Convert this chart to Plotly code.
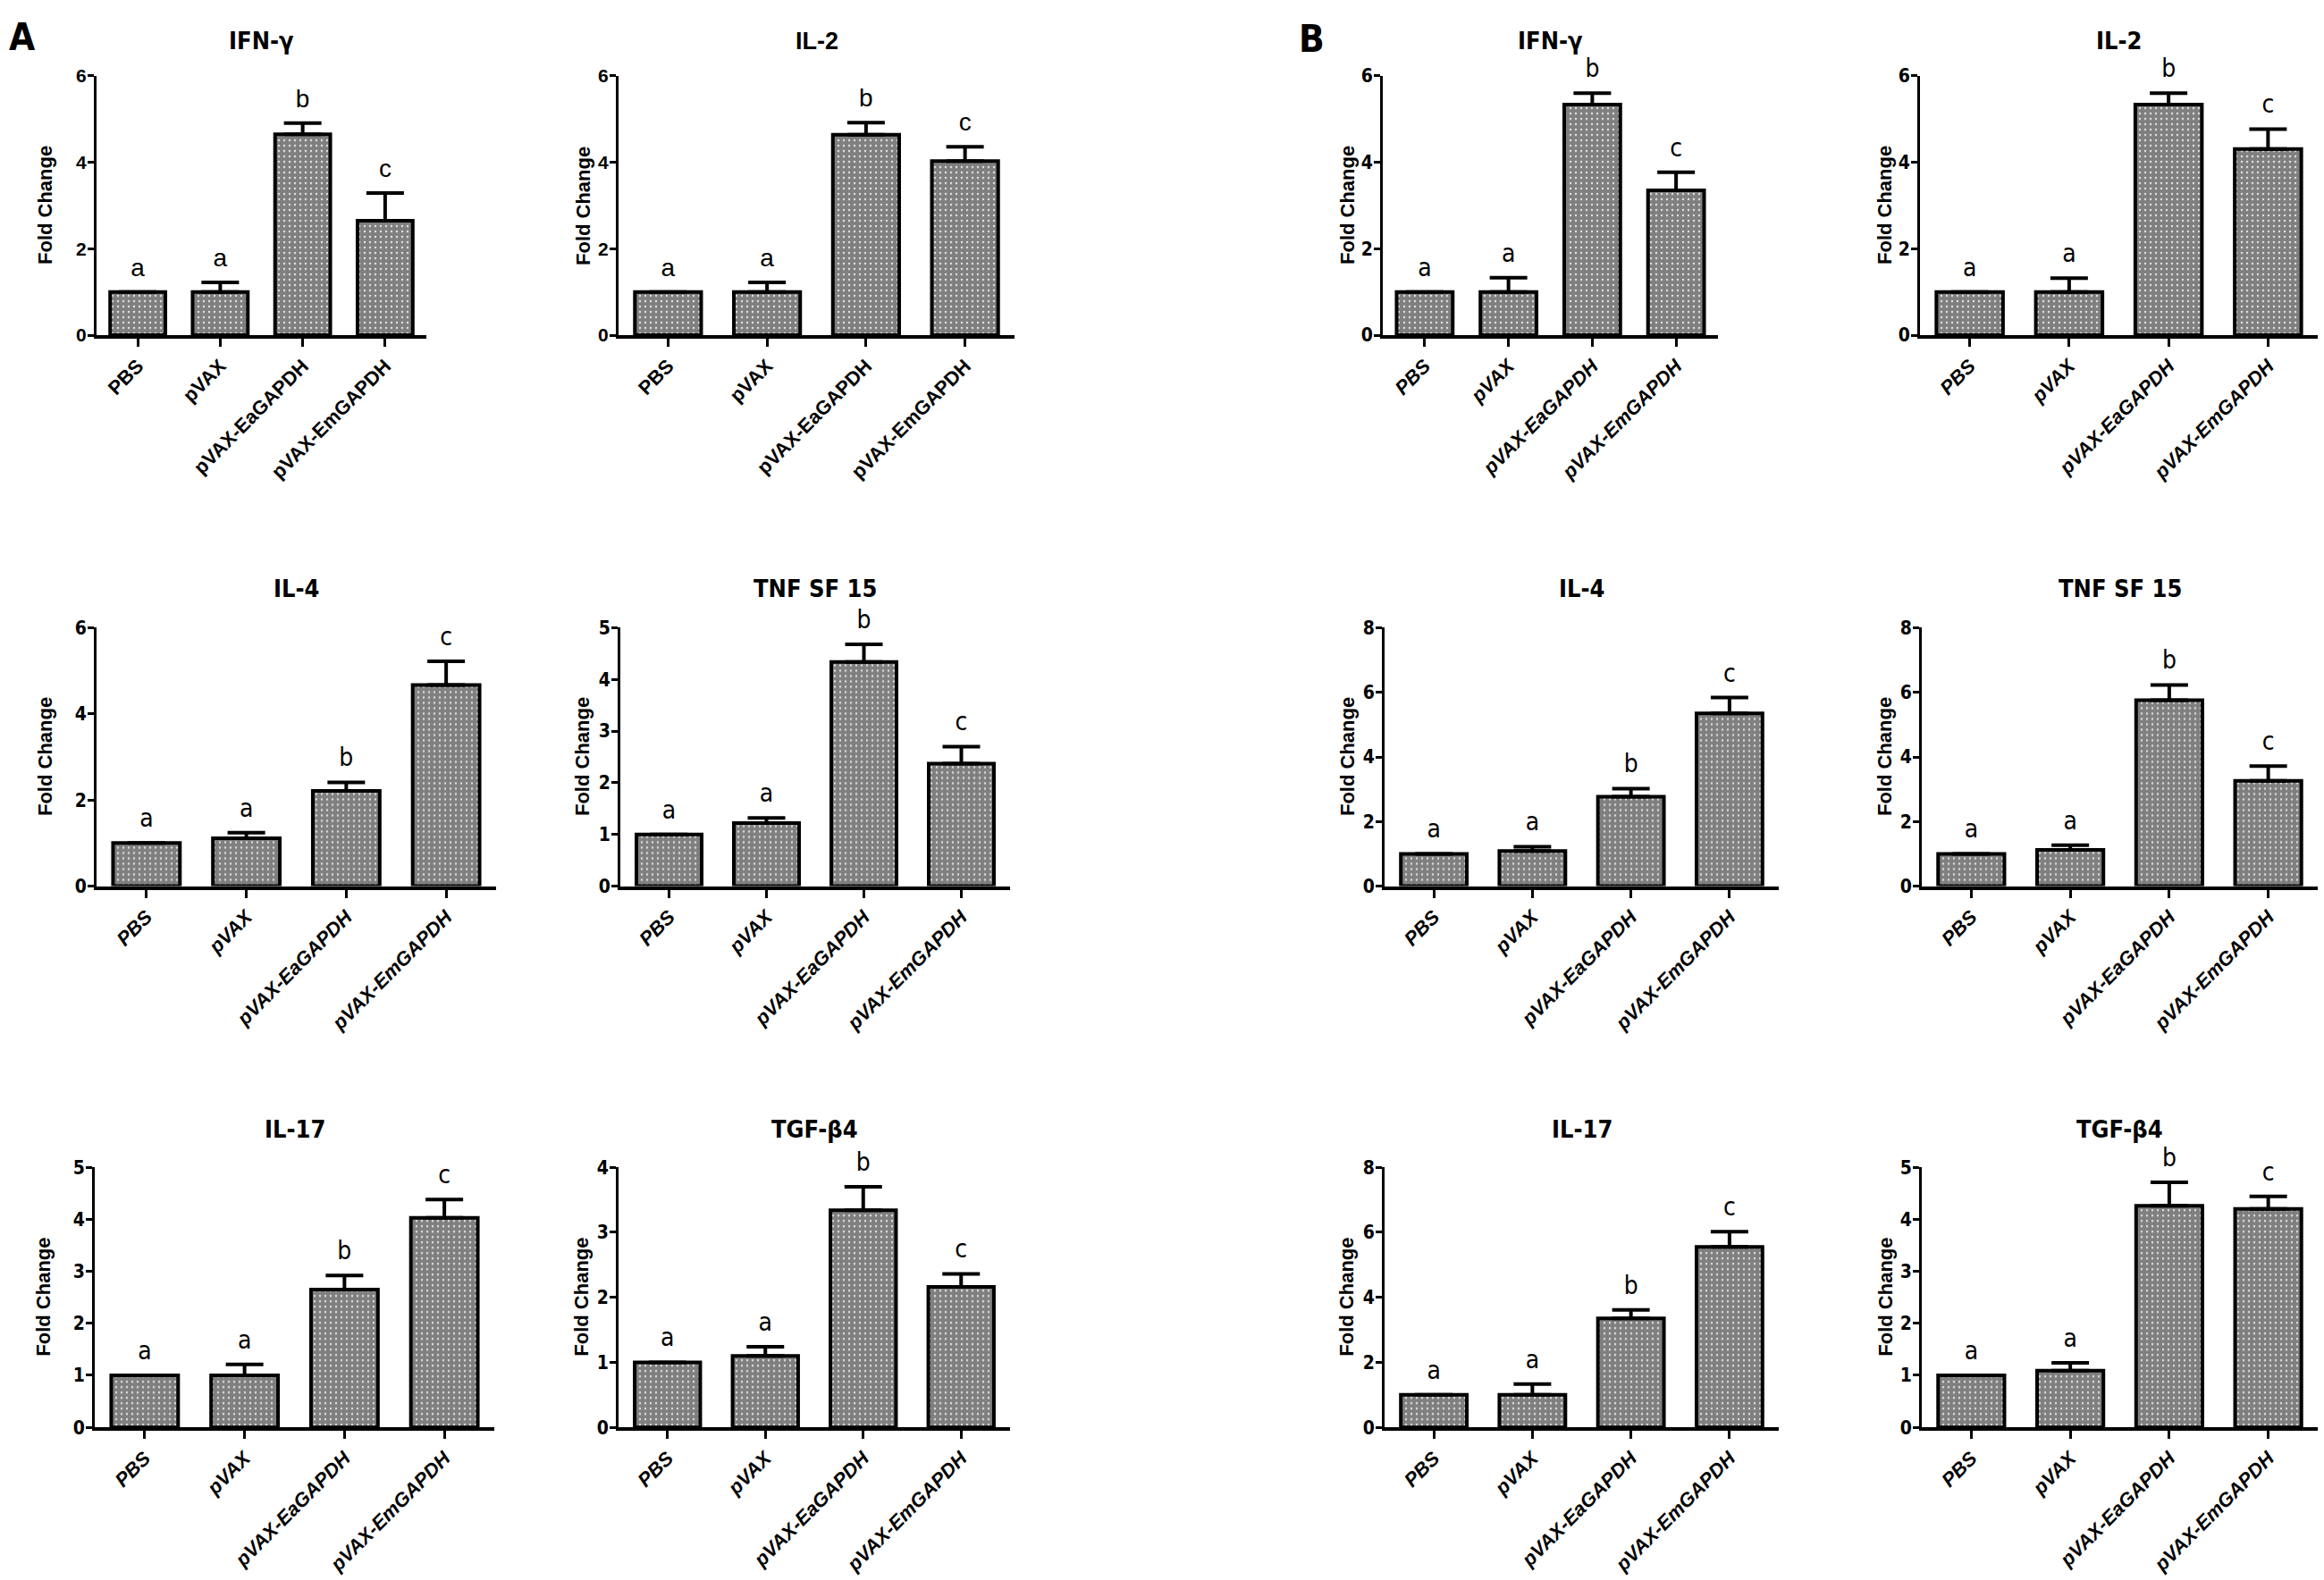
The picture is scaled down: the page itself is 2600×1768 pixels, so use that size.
import plotly.graph_objects as go

W, H = 2600, 1768

GROUPS = ["PBS", "pVAX", "pVAX-EaGAPDH", "pVAX-EmGAPDH"]
LETTERS = ["a", "a", "b", "c"]

# panel A (fold change, mean and upper SD)
A_IFNG = [1.0, 1.0, 4.65, 2.65]
A_IFNG_SD = [0.0, 0.22, 0.26, 0.64]
A_IL2 = [1.0, 1.0, 4.64, 4.03]
A_IL2_SD = [0.0, 0.22, 0.28, 0.33]
A_IL4 = [1.0, 1.11, 2.21, 4.67]
A_IL4_SD = [0.0, 0.13, 0.20, 0.55]
A_TNF = [1.0, 1.22, 4.34, 2.37]
A_TNF_SD = [0.0, 0.10, 0.34, 0.33]
A_IL17 = [1.0, 1.0, 2.65, 4.03]
A_IL17_SD = [0.0, 0.21, 0.27, 0.35]
A_TGF = [1.0, 1.10, 3.34, 2.16]
A_TGF_SD = [0.0, 0.14, 0.36, 0.20]

# panel B
B_IFNG = [1.0, 1.0, 5.34, 3.35]
B_IFNG_SD = [0.0, 0.33, 0.26, 0.42]
B_IL2 = [1.0, 1.0, 5.34, 4.31]
B_IL2_SD = [0.0, 0.32, 0.26, 0.46]
B_IL4 = [1.0, 1.09, 2.77, 5.35]
B_IL4_SD = [0.0, 0.13, 0.25, 0.49]
B_TNF = [1.0, 1.12, 5.76, 3.26]
B_TNF_SD = [0.0, 0.15, 0.47, 0.46]
B_IL17 = [1.0, 1.0, 3.35, 5.55]
B_IL17_SD = [0.0, 0.33, 0.26, 0.47]
B_TGF = [1.0, 1.09, 4.26, 4.20]
B_TGF_SD = [0.0, 0.15, 0.45, 0.24]

# y axis maxima and tick steps
A_YMAX = [6, 6, 6, 5, 5, 4]
A_DTICK = [2, 2, 2, 1, 1, 1]
B_YMAX = [6, 6, 8, 8, 8, 5]
B_DTICK = [2, 2, 2, 2, 2, 1]

TITLES = ["IFN-γ", "IL-2", "IL-4", "TNF SF 15", "IL-17", "TGF-β4"]

ARIAL = "Liberation Sans, Arial, sans-serif"
NARROW = "Liberation Sans Narrow, Arial Narrow, DejaVu Sans Condensed, sans-serif"

# plot boxes in pixels: (x0, x1, y_top, y_bottom), panel A then B, row by row
BOXES_A = [(108, 477, 74, 368), (692, 1135, 74, 368),
           (108, 555, 700, 993), (694, 1130, 700, 993),
           (106, 553, 1312, 1607), (692, 1130, 1312, 1607)]
BOXES_B = [(1547, 1922, 74, 368), (2148, 2593, 74, 368),
           (1549, 1990, 700, 993), (2150, 2593, 700, 993),
           (1549, 1990, 1312, 1607), (2150, 2593, 1312, 1607)]
YTITLE_X_A = [50, 652, 50, 651, 49, 651]
YTITLE_X_B = [1507, 2108, 1507, 2108, 1507, 2110]
TITLE_Y = [34, 34, 655, 655, 1269, 1269]

panels = []
a_vals = [A_IFNG, A_IL2, A_IL4, A_TNF, A_IL17, A_TGF]
a_sd = [A_IFNG_SD, A_IL2_SD, A_IL4_SD, A_TNF_SD, A_IL17_SD, A_TGF_SD]
b_vals = [B_IFNG, B_IL2, B_IL4, B_TNF, B_IL17, B_TGF]
b_sd = [B_IFNG_SD, B_IL2_SD, B_IL4_SD, B_TNF_SD, B_IL17_SD, B_TGF_SD]
for i in range(6):
    panels.append(dict(vals=a_vals[i], sd=a_sd[i], ymax=A_YMAX[i], dtick=A_DTICK[i],
                       title=TITLES[i], box=BOXES_A[i], ytx=YTITLE_X_A[i],
                       ty=TITLE_Y[i], plain=(i < 2)))
for i in range(6):
    panels.append(dict(vals=b_vals[i], sd=b_sd[i], ymax=B_YMAX[i], dtick=B_DTICK[i],
                       title=TITLES[i], box=BOXES_B[i], ytx=YTITLE_X_B[i],
                       ty=TITLE_Y[i], plain=False))

fig = go.Figure()
layout = {}
annotations = []

for k, p in enumerate(panels, start=1):
    sfx = "" if k == 1 else str(k)
    xref, yref = f"x{sfx}", f"y{sfx}"
    x0, x1, yt, yb = p["box"]
    tickfam = ARIAL if p["plain"] else NARROW
    cats = list(range(len(GROUPS)))

    fig.add_trace(go.Bar(
        x=cats, y=p["vals"], xaxis=xref, yaxis=yref, width=0.67,
        marker=dict(color="white", line=dict(color="black", width=4),
                    pattern=dict(shape=".", size=6, solidity=0.83,
                                 fgcolor="black", bgcolor="white")),
        error_y=dict(type="data", array=p["sd"], arrayminus=[0] * 4,
                     symmetric=False, color="black", thickness=4, width=21),
        showlegend=False,
    ))
    tops = [v + s for v, s in zip(p["vals"], p["sd"])]
    fig.add_trace(go.Scatter(
        x=cats, y=tops, xaxis=xref, yaxis=yref, mode="markers+text",
        text=LETTERS, textposition="top center",
        textfont=dict(family=tickfam, size=28, color="black"),
        marker=dict(size=16, opacity=0), cliponaxis=False, showlegend=False,
        hoverinfo="skip",
    ))

    layout[f"xaxis{sfx}"] = dict(
        domain=[x0 / W, x1 / W], anchor=yref, range=[-0.5, 3.5],
        tickvals=cats, ticktext=GROUPS, tickangle=-45,
        tickfont=dict(family=ARIAL, size=22, color="black", weight="bold",
                      style="normal" if p["plain"] else "italic"),
        showline=True, linecolor="black", linewidth=4,
        ticks="outside", ticklen=9, tickwidth=3, tickcolor="black",
        showgrid=False, zeroline=False, fixedrange=True,
    )
    layout[f"yaxis{sfx}"] = dict(
        domain=[1 - yb / H, 1 - yt / H], anchor=xref, range=[0, p["ymax"]],
        dtick=p["dtick"], tick0=0,
        tickfont=dict(family=tickfam, size=21, color="black", weight="bold"),
        ticklabelstandoff=-3,
        showline=True, linecolor="black", linewidth=3,
        ticks="outside", ticklen=7, tickwidth=3, tickcolor="black",
        showgrid=False, zeroline=False, fixedrange=True,
    )
    annotations.append(dict(
        x=(x0 + x1) / 2 / W, y=1 - p["ty"] / H, xref="paper", yref="paper",
        text=f"<b>{p['title']}</b>", showarrow=False, xanchor="center", yanchor="middle",
        font=dict(family=ARIAL if p["title"] == "IL-2" and p["plain"] else NARROW,
                  size=27, color="black"),
    ))
    annotations.append(dict(
        x=p["ytx"] / W, y=1 - (yt + yb) / 2 / H, xref="paper", yref="paper",
        text="<b>Fold Change</b>", showarrow=False, textangle=-90,
        xanchor="center", yanchor="middle",
        font=dict(family=ARIAL, size=22, color="black"),
    ))

for letter, px, py in [("A", 25, 30), ("B", 1467, 32)]:
    annotations.append(dict(
        x=px / W, y=1 - py / H, xref="paper", yref="paper", text=f"<b>{letter}</b>",
        showarrow=False, xanchor="center", yanchor="middle",
        font=dict(family=NARROW, size=42, color="black"),
    ))

fig.update_layout(
    width=W, height=H, margin=dict(l=0, r=0, t=0, b=0),
    paper_bgcolor="white", plot_bgcolor="white",
    annotations=annotations, bargap=0.33, **layout,
)

# drop the browser's default page margin so the figure sits at the window corner
fig.write_html("out.html", config={"displayModeBar": False},
               post_script="document.body.style.margin='0';")
